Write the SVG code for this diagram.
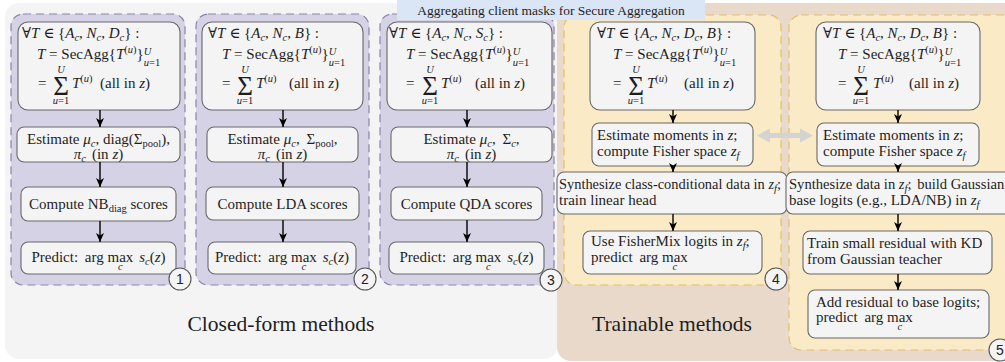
<svg xmlns="http://www.w3.org/2000/svg" width="1005" height="362" viewBox="0 0 1005 362">
<defs>
<style>
.t{font-family:"Liberation Serif","DejaVu Serif",serif;font-size:15px;fill:#1e1e1e}
.i{font-style:italic}
.s{font-size:10.5px}
.sig{font-size:27px}
.box{fill:#f4f4f4;stroke:#686868;stroke-width:1.1}
.pp{fill:#d6d2e6;stroke:#8a83aa;stroke-width:1.2;stroke-dasharray:8 5}
.py{fill:#faeac5;stroke:#e2c067;stroke-width:1.2;stroke-dasharray:8 5}
.ar{stroke:#000;stroke-width:1.4;fill:none;marker-end:url(#ah)}
.nc{fill:#f4f4f4;stroke:#555;stroke-width:1.1}
.nt{font-family:"Liberation Sans",Arial,sans-serif;font-size:14px;fill:#222;text-anchor:middle}
.big{font-size:21.5px}
.m{text-anchor:middle}
</style>
<marker id="ah" markerWidth="9" markerHeight="8" refX="9" refY="4" orient="auto" markerUnits="userSpaceOnUse"><path d="M0,0 L9,4 L0,8 L2.5,4 z" fill="#000"/></marker>
</defs>

<g id="background">
<rect x="5" y="3" width="553" height="356" rx="14" fill="#f4f4f4"/>
<rect x="557" y="3" width="470" height="358" rx="14" fill="#e9d9ca"/>
</g>

<!-- Panel 1 -->
<g id="method1">
<rect class="pp" x="11" y="14" width="174" height="271" rx="12"/>
<g id="m1-agg">
<rect class="box" x="18" y="22" width="162" height="88" rx="10"/>
<text class="t" x="22" y="38">∀<tspan class="i">T</tspan> ∈ {<tspan class="i">A</tspan><tspan class="s i" dy="3">c</tspan><tspan dy="-3">, </tspan><tspan class="i">N</tspan><tspan class="s i" dy="3">c</tspan><tspan dy="-3">, </tspan><tspan class="i">D</tspan><tspan class="s i" dy="3">c</tspan><tspan dy="-3">} :</tspan></text>
<text class="t" x="37" y="59"><tspan class="i">T</tspan> = SecAgg{<tspan class="i">T</tspan><tspan class="s" dy="-6">(<tspan class="i">u</tspan>)</tspan><tspan dy="6">}</tspan><tspan class="s i" dy="-4">U</tspan><tspan class="s" dx="-7.6" dy="11"><tspan class="i">u</tspan>=1</tspan></text>
<text class="t" x="38" y="88">=</text>
<text class="t sig m" x="61" y="95">Σ</text>
<text class="t s i m" x="61" y="72.5">U</text>
<text class="t s m" x="61" y="104"><tspan class="i">u</tspan>=1</text>
<text class="t" x="72" y="88"><tspan class="i">T</tspan><tspan class="s" dy="-6">(<tspan class="i">u</tspan>)</tspan></text>
<text class="t" x="100" y="88">(all in <tspan class="i">z</tspan>)</text>
</g>
<g id="m1-est">
<rect class="box" x="17" y="127" width="163" height="35" rx="7"/>
<text class="t m" x="98.5" y="144">Estimate <tspan class="i">μ</tspan><tspan class="s i" dy="3">c</tspan><tspan dy="-3">, diag(Σ</tspan><tspan class="s" dy="3">pool</tspan><tspan dy="-3">),</tspan></text>
<text class="t m" x="98.5" y="158.5"><tspan class="i">π</tspan><tspan class="s i" dy="3">c</tspan><tspan dy="-3" dx="6">(in </tspan><tspan class="i">z</tspan>)</text>
</g>
<g id="m1-score">
<rect class="box" x="21" y="187" width="155" height="34" rx="7"/>
<text class="t m" x="98.5" y="209">Compute NB<tspan class="s" dy="3">diag</tspan><tspan dy="-3"> scores</tspan></text>
</g>
<g id="m1-pred">
<rect class="box" x="21" y="242" width="155" height="32" rx="7"/>
<text class="t m" x="98.5" y="262">Predict: <tspan dx="3">arg max</tspan><tspan class="s i" dx="-15.3" dy="8">c</tspan><tspan class="i" dx="16.5" dy="-8">s</tspan><tspan class="s i" dy="3">c</tspan><tspan dy="-3">(</tspan><tspan class="i">z</tspan>)</text>
</g>
<g id="m1-num"><circle class="nc" cx="180" cy="279" r="11"/><text class="nt" x="180" y="284">1</text></g>
</g>

<!-- Panel 2 -->
<g id="method2">
<rect class="pp" x="196" y="14" width="173" height="271" rx="12"/>
<g id="m2-agg">
<rect class="box" x="202" y="22" width="161" height="88" rx="10"/>
<text class="t" x="208" y="38">∀<tspan class="i">T</tspan> ∈ {<tspan class="i">A</tspan><tspan class="s i" dy="3">c</tspan><tspan dy="-3">, </tspan><tspan class="i">N</tspan><tspan class="s i" dy="3">c</tspan><tspan dy="-3">, </tspan><tspan class="i">B</tspan>} :</text>
<text class="t" x="222" y="59"><tspan class="i">T</tspan> = SecAgg{<tspan class="i">T</tspan><tspan class="s" dy="-6">(<tspan class="i">u</tspan>)</tspan><tspan dy="6">}</tspan><tspan class="s i" dy="-4">U</tspan><tspan class="s" dx="-7.6" dy="11"><tspan class="i">u</tspan>=1</tspan></text>
<text class="t" x="222" y="88">=</text>
<text class="t sig m" x="245" y="95">Σ</text>
<text class="t s i m" x="245" y="72.5">U</text>
<text class="t s m" x="245" y="104"><tspan class="i">u</tspan>=1</text>
<text class="t" x="256" y="88"><tspan class="i">T</tspan><tspan class="s" dy="-6">(<tspan class="i">u</tspan>)</tspan></text>
<text class="t" x="289" y="88">(all in <tspan class="i">z</tspan>)</text>
</g>
<g id="m2-est">
<rect class="box" x="207" y="127" width="151" height="35" rx="7"/>
<text class="t m" x="282.5" y="144">Estimate <tspan class="i">μ</tspan><tspan class="s i" dy="3">c</tspan><tspan dy="-3">, </tspan><tspan dx="3">Σ</tspan><tspan class="s" dy="3">pool</tspan><tspan dy="-3">,</tspan></text>
<text class="t m" x="282.5" y="158.5"><tspan class="i">π</tspan><tspan class="s i" dy="3">c</tspan><tspan dy="-3" dx="6">(in </tspan><tspan class="i">z</tspan>)</text>
</g>
<g id="m2-score">
<rect class="box" x="206" y="187" width="153" height="33" rx="7"/>
<text class="t m" x="282.5" y="209">Compute LDA scores</text>
</g>
<g id="m2-pred">
<rect class="box" x="208" y="242" width="148" height="32" rx="7"/>
<text class="t m" x="282" y="262">Predict: <tspan dx="3">arg max</tspan><tspan class="s i" dx="-15.3" dy="8">c</tspan><tspan class="i" dx="16.5" dy="-8">s</tspan><tspan class="s i" dy="3">c</tspan><tspan dy="-3">(</tspan><tspan class="i">z</tspan>)</text>
</g>
<g id="m2-num"><circle class="nc" cx="365" cy="279" r="11"/><text class="nt" x="365" y="284">2</text></g>
</g>

<!-- Panel 3 -->
<g id="method3">
<rect class="pp" x="380" y="14" width="174" height="271" rx="12"/>
<g id="m3-agg">
<rect class="box" x="387" y="22" width="165" height="88" rx="10"/>
<text class="t" x="389" y="38">∀<tspan class="i">T</tspan> ∈ {<tspan class="i">A</tspan><tspan class="s i" dy="3">c</tspan><tspan dy="-3">, </tspan><tspan class="i">N</tspan><tspan class="s i" dy="3">c</tspan><tspan dy="-3">, </tspan><tspan class="i">S</tspan><tspan class="s i" dy="3">c</tspan><tspan dy="-3">} :</tspan></text>
<text class="t" x="406" y="59"><tspan class="i">T</tspan> = SecAgg{<tspan class="i">T</tspan><tspan class="s" dy="-6">(<tspan class="i">u</tspan>)</tspan><tspan dy="6">}</tspan><tspan class="s i" dy="-4">U</tspan><tspan class="s" dx="-7.6" dy="11"><tspan class="i">u</tspan>=1</tspan></text>
<text class="t" x="406" y="88">=</text>
<text class="t sig m" x="430" y="95">Σ</text>
<text class="t s i m" x="430" y="72.5">U</text>
<text class="t s m" x="430" y="104"><tspan class="i">u</tspan>=1</text>
<text class="t" x="441" y="88"><tspan class="i">T</tspan><tspan class="s" dy="-6">(<tspan class="i">u</tspan>)</tspan></text>
<text class="t" x="475" y="88">(all in <tspan class="i">z</tspan>)</text>
</g>
<g id="m3-est">
<rect class="box" x="391" y="127" width="161" height="35" rx="7"/>
<text class="t m" x="471.5" y="144">Estimate <tspan class="i">μ</tspan><tspan class="s i" dy="3">c</tspan><tspan dy="-3">, </tspan><tspan dx="3">Σ</tspan><tspan class="s i" dy="3">c</tspan><tspan dy="-3">,</tspan></text>
<text class="t m" x="471.5" y="158.5"><tspan class="i">π</tspan><tspan class="s i" dy="3">c</tspan><tspan dy="-3" dx="6">(in </tspan><tspan class="i">z</tspan>)</text>
</g>
<g id="m3-score">
<rect class="box" x="391" y="187" width="151" height="33" rx="7"/>
<text class="t m" x="466.5" y="209">Compute QDA scores</text>
</g>
<g id="m3-pred">
<rect class="box" x="389" y="242" width="155" height="32" rx="7"/>
<text class="t m" x="466.5" y="262">Predict: <tspan dx="3">arg max</tspan><tspan class="s i" dx="-15.3" dy="8">c</tspan><tspan class="i" dx="16.5" dy="-8">s</tspan><tspan class="s i" dy="3">c</tspan><tspan dy="-3">(</tspan><tspan class="i">z</tspan>)</text>
</g>
<g id="m3-num"><circle class="nc" cx="551" cy="280" r="11"/><text class="nt" x="551" y="285">3</text></g>
</g>

<!-- Panel 4 -->
<g id="method4">
<rect class="py" x="564" y="15" width="217" height="270" rx="12"/>
<g id="m4-agg">
<rect class="box" x="590" y="22" width="165" height="88" rx="10"/>
<text class="t" x="597" y="38">∀<tspan class="i">T</tspan> ∈ {<tspan class="i">A</tspan><tspan class="s i" dy="3">c</tspan><tspan dy="-3">, </tspan><tspan class="i">N</tspan><tspan class="s i" dy="3">c</tspan><tspan dy="-3">, </tspan><tspan class="i">D</tspan><tspan class="s i" dy="3">c</tspan><tspan dy="-3">, </tspan><tspan class="i">B</tspan>} :</text>
<text class="t" x="613" y="59"><tspan class="i">T</tspan> = SecAgg{<tspan class="i">T</tspan><tspan class="s" dy="-6">(<tspan class="i">u</tspan>)</tspan><tspan dy="6">}</tspan><tspan class="s i" dy="-4">U</tspan><tspan class="s" dx="-7.6" dy="11"><tspan class="i">u</tspan>=1</tspan></text>
<text class="t" x="613" y="88">=</text>
<text class="t sig m" x="636" y="95">Σ</text>
<text class="t s i m" x="636" y="72.5">U</text>
<text class="t s m" x="636" y="104"><tspan class="i">u</tspan>=1</text>
<text class="t" x="647" y="88"><tspan class="i">T</tspan><tspan class="s" dy="-6">(<tspan class="i">u</tspan>)</tspan></text>
<text class="t" x="684" y="88">(all in <tspan class="i">z</tspan>)</text>
</g>
<g id="m4-est">
<rect class="box" x="592" y="123" width="161" height="43" rx="7"/>
<text class="t" x="597" y="140">Estimate moments in <tspan class="i">z</tspan>;</text>
<text class="t" x="597" y="156">compute Fisher space <tspan class="i">z</tspan><tspan class="s i" dy="3">f</tspan></text>
</g>
<g id="m4-syn">
<rect class="box" x="557" y="172" width="230" height="42" rx="7"/>
<text class="t" x="559" y="189" style="font-size:14.4px">Synthesize class-conditional data in <tspan class="i">z</tspan><tspan class="s i" dy="3">f</tspan><tspan dy="-3">;</tspan></text>
<text class="t" x="559" y="205">train linear head</text>
</g>
<g id="m4-pred">
<rect class="box" x="583" y="231" width="179" height="43" rx="7"/>
<text class="t" x="591" y="246">Use FisherMix logits in <tspan class="i">z</tspan><tspan class="s i" dy="3">f</tspan><tspan dy="-3">;</tspan></text>
<text class="t" x="591" y="262">predict <tspan dx="3">arg max</tspan><tspan class="s i" dx="-15.3" dy="8">c</tspan></text>
</g>
<g id="m4-num"><circle class="nc" cx="776" cy="279" r="11"/><text class="nt" x="776" y="284">4</text></g>
</g>

<!-- Panel 5 -->
<g id="method5">
<rect class="py" x="789" y="15" width="240" height="335" rx="12"/>
<g id="m5-agg">
<rect class="box" x="816" y="22" width="164" height="88" rx="10"/>
<text class="t" x="823" y="38">∀<tspan class="i">T</tspan> ∈ {<tspan class="i">A</tspan><tspan class="s i" dy="3">c</tspan><tspan dy="-3">, </tspan><tspan class="i">N</tspan><tspan class="s i" dy="3">c</tspan><tspan dy="-3">, </tspan><tspan class="i">D</tspan><tspan class="s i" dy="3">c</tspan><tspan dy="-3">, </tspan><tspan class="i">B</tspan>} :</text>
<text class="t" x="838" y="59"><tspan class="i">T</tspan> = SecAgg{<tspan class="i">T</tspan><tspan class="s" dy="-6">(<tspan class="i">u</tspan>)</tspan><tspan dy="6">}</tspan><tspan class="s i" dy="-4">U</tspan><tspan class="s" dx="-7.6" dy="11"><tspan class="i">u</tspan>=1</tspan></text>
<text class="t" x="838" y="88">=</text>
<text class="t sig m" x="861" y="95">Σ</text>
<text class="t s i m" x="861" y="72.5">U</text>
<text class="t s m" x="861" y="104"><tspan class="i">u</tspan>=1</text>
<text class="t" x="873" y="88"><tspan class="i">T</tspan><tspan class="s" dy="-6">(<tspan class="i">u</tspan>)</tspan></text>
<text class="t" x="909" y="88">(all in <tspan class="i">z</tspan>)</text>
</g>
<g id="m5-est">
<rect class="box" x="817" y="123" width="162" height="43" rx="7"/>
<text class="t" x="823" y="140">Estimate moments in <tspan class="i">z</tspan>;</text>
<text class="t" x="823" y="156">compute Fisher space <tspan class="i">z</tspan><tspan class="s i" dy="3">f</tspan></text>
</g>
<g id="m5-syn">
<rect class="box" x="786" y="172" width="240" height="42" rx="7"/>
<text class="t" x="789" y="189" style="font-size:14.6px">Synthesize data in <tspan class="i">z</tspan><tspan class="s i" dy="3">f</tspan><tspan dy="-3">; </tspan><tspan dx="2">build Gaussian</tspan></text>
<text class="t" x="789" y="205">base logits (e.g., LDA/NB) in <tspan class="i">z</tspan><tspan class="s i" dy="3">f</tspan></text>
</g>
<g id="m5-kd">
<rect class="box" x="803" y="231" width="189" height="43" rx="7"/>
<text class="t" x="807" y="248">Train small residual with KD</text>
<text class="t" x="807" y="264">from Gaussian teacher</text>
</g>
<g id="m5-pred">
<rect class="box" x="808" y="290" width="181" height="48" rx="7"/>
<text class="t" x="816" y="307">Add residual to base logits;</text>
<text class="t" x="816" y="322">predict <tspan dx="3">arg max</tspan><tspan class="s i" dx="-15.3" dy="8">c</tspan></text>
</g>
<g id="m5-num"><circle class="nc" cx="1000" cy="350" r="11"/><text class="nt" x="1000" y="355">5</text></g>
</g>

<g id="connectors">
<line class="ar" x1="100" y1="110" x2="100" y2="127"/>
<line class="ar" x1="100" y1="162" x2="100" y2="187"/>
<line class="ar" x1="100" y1="221" x2="100" y2="242"/>
<line class="ar" x1="283" y1="110" x2="283" y2="127"/>
<line class="ar" x1="283" y1="162" x2="283" y2="187"/>
<line class="ar" x1="283" y1="220" x2="283" y2="242"/>
<line class="ar" x1="467" y1="110" x2="467" y2="127"/>
<line class="ar" x1="467" y1="162" x2="467" y2="187"/>
<line class="ar" x1="467" y1="220" x2="467" y2="242"/>
<line class="ar" x1="673" y1="110" x2="673" y2="123"/>
<line class="ar" x1="673" y1="166" x2="673" y2="172"/>
<line class="ar" x1="673" y1="214" x2="673" y2="231"/>
<line class="ar" x1="898" y1="110" x2="898" y2="123"/>
<line class="ar" x1="898" y1="166" x2="898" y2="172"/>
<line class="ar" x1="898" y1="214" x2="898" y2="231"/>
<line class="ar" x1="898" y1="274" x2="898" y2="290"/>
<path d="M757,135.5 L770,128.5 L770,133 L800,133 L800,128.5 L813,135.5 L800,142.5 L800,138 L770,138 L770,142.5 Z" fill="#d3d3d3"/>
</g>

<g id="labels">
<text class="t big m" x="281" y="331">Closed-form methods</text>
<text class="t big m" x="672" y="331">Trainable methods</text>
</g>

<g id="banner">
<rect x="397" y="0" width="308" height="20" fill="#dae6f6"/>
<text class="t m" x="551" y="15" style="font-size:13.5px">Aggregating client masks for Secure Aggregation</text>
</g>
</svg>
